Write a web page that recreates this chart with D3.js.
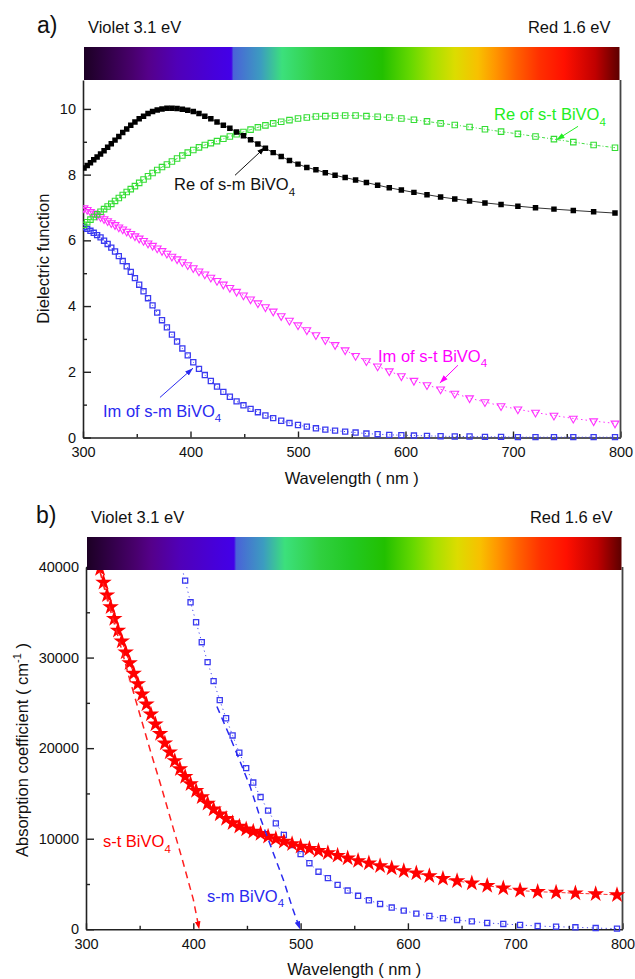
<!DOCTYPE html>
<html><head><meta charset="utf-8">
<script src="https://cdn.jsdelivr.net/npm/d3@7"></script>
<style>body{margin:0;background:#fff}svg{display:block;font-family:"Liberation Sans",Arial,sans-serif}</style>
</head><body><svg id="c" width="635" height="979"></svg>
<script>
// shared wavelength grid (nm)
const wavelengths = [300.97,303.92,306.93,310.00,313.13,316.33,319.59,322.92,326.32,329.79,333.33,336.96,340.66,344.44,348.31,352.27,356.32,360.47,364.71,369.05,373.49,378.05,382.72,387.50,392.41,397.44,402.60,407.89,413.33,418.92,424.66,430.56,436.62,442.86,449.28,455.88,462.69,469.70,476.92,484.38,492.06,500.00,508.20,516.67,525.42,534.48,543.86,553.57,563.64,574.07,584.91,596.15,607.84,620.00,632.65,645.83,659.57,673.91,688.89,704.55,720.93,738.10,756.10,775.00,794.87];
// panel a) dielectric function
const reSM = [8.20,8.28,8.36,8.45,8.54,8.63,8.73,8.83,8.94,9.05,9.16,9.28,9.39,9.50,9.60,9.70,9.78,9.86,9.92,9.97,10.00,10.02,10.02,10.01,9.99,9.96,9.92,9.86,9.78,9.70,9.60,9.50,9.41,9.30,9.18,9.06,8.93,8.80,8.67,8.55,8.43,8.32,8.22,8.15,8.06,7.98,7.91,7.84,7.76,7.68,7.60,7.53,7.46,7.39,7.32,7.26,7.20,7.14,7.09,7.04,6.99,6.95,6.91,6.87,6.83];
const reST = [6.47,6.55,6.63,6.71,6.79,6.87,6.95,7.03,7.11,7.20,7.29,7.38,7.47,7.56,7.65,7.75,7.85,7.95,8.05,8.14,8.23,8.31,8.40,8.49,8.58,8.67,8.75,8.83,8.90,8.96,9.02,9.09,9.16,9.23,9.30,9.37,9.44,9.50,9.56,9.61,9.66,9.71,9.74,9.77,9.78,9.79,9.80,9.80,9.78,9.76,9.74,9.71,9.67,9.62,9.56,9.51,9.45,9.38,9.31,9.24,9.16,9.08,8.99,8.90,8.82];
const imST = [6.98,6.93,6.87,6.82,6.76,6.71,6.65,6.59,6.53,6.47,6.40,6.34,6.27,6.20,6.13,6.06,5.99,5.91,5.84,5.76,5.68,5.60,5.51,5.43,5.34,5.25,5.16,5.06,4.97,4.87,4.77,4.66,4.56,4.44,4.33,4.21,4.09,3.97,3.84,3.70,3.56,3.42,3.27,3.12,2.97,2.82,2.66,2.49,2.33,2.17,2.02,1.87,1.73,1.60,1.47,1.34,1.20,1.08,0.96,0.86,0.76,0.67,0.58,0.50,0.43];
const imSM = [6.40,6.35,6.29,6.23,6.16,6.09,5.99,5.89,5.78,5.66,5.52,5.37,5.21,5.04,4.85,4.65,4.45,4.24,4.02,3.80,3.57,3.35,3.13,2.92,2.71,2.50,2.29,2.09,1.90,1.72,1.55,1.39,1.24,1.10,0.98,0.87,0.77,0.67,0.59,0.51,0.44,0.38,0.33,0.28,0.24,0.21,0.18,0.15,0.12,0.10,0.08,0.07,0.06,0.05,0.04,0.03,0.03,0.02,0.02,0.01,0.01,0.01,0.01,0.01,0.01];
// panel b) absorption coefficient (cm^-1)
const alphaST = [null,null,null,null,39800,38300,36900,35600,34300,33000,31800,30600,29400,28250,27100,25950,24850,23750,22650,21600,20550,19550,18600,17700,16850,16050,15300,14600,13900,13250,12700,12200,11750,11350,11050,10800,10550,10250,9990,9700,9430,9150,8900,8690,8420,8140,7860,7560,7290,7000,6740,6450,6190,5900,5600,5340,5080,4820,4540,4280,4150,4080,3980,3900,3800];
const alphaSM = [null,null,null,null,null,null,null,null,null,null,null,null,null,null,null,null,null,null,null,null,null,null,null,40800,38500,36100,33900,31700,29500,27400,25300,23300,21400,19500,17800,16200,14600,13100,11700,10420,9300,8300,7300,6360,5650,4900,4280,3700,3200,2800,2400,2060,1730,1470,1220,1030,870,700,590,480,360,290,220,140,70];
// band-gap extrapolation lines
const fitSTwl = [313,320,330,340,350,360,370,380,390,400,405.5];
const fitSTval = [39500,36300,32300,27900,23800,19700,15800,11700,7600,3300,0];
const fitSMwl = [422,434,443.5,453,462,474.6,484,493,499.5];
const fitSMval = [24600,21300,18550,15750,12450,8400,5450,2150,0];
// ticks
const xTicks = [300,400,500,600,700,800];
const xMinor = [350,450,550,650,750];
const yTicksA = [0,2,4,6,8,10];
const yMinorA = [1,3,5,7,9];
const yTicksB = [0,10000,20000,30000,40000];
const yMinorB = [5000,15000,25000,35000];
// spectrum colour bar stops
const specOffsets = [0,0.09,0.12,0.174,0.245,0.275,0.279,0.33,0.37,0.435,0.495,0.557,0.61,0.65,0.693,0.736,0.768,0.806,0.85,0.897,0.955,1];
const specColors = ["#1c0024","#48006c","#55008a","#5000b8","#4600dc","#4300e8","#4a62d8","#3c9cc0","#3ce07c","#30d040","#22c822","#22c000","#66d800","#a6e000","#dcdc00","#f8c000","#ff9600","#ff6200","#ff3000","#ff1000","#c00000","#5c0000"];

const svg = d3.select('#c');
const defs = svg.append('defs');
const grad = defs.append('linearGradient').attr('id','spec').attr('x1','0').attr('x2','1').attr('y1','0').attr('y2','0');
specOffsets.forEach((o,i)=>grad.append('stop').attr('offset',o).attr('stop-color',specColors[i]));
function arrowMarker(id,color){
  defs.append('marker').attr('id',id).attr('viewBox','0 0 10 10').attr('refX',10).attr('refY',5)
    .attr('markerWidth',8).attr('markerHeight',8).attr('markerUnits','userSpaceOnUse').attr('orient','auto')
    .append('path').attr('d','M0,1.5L10,5L0,8.5Z').attr('fill',color);
}
arrowMarker('aK','#000');arrowMarker('aG','#22ee22');arrowMarker('aM','#ff00ff');arrowMarker('aB','#2a2af0');arrowMarker('aR','#ff0000');

function subText(g,x,y,main,sub,color,size){
  const t=g.append('text').attr('x',x).attr('y',y).attr('fill',color).attr('font-size',size);
  t.append('tspan').text(main);
  t.append('tspan').attr('font-size',size*0.7).attr('dy',size*0.33).text(sub);
  return t;
}

function panel(o){
  const g = svg.append('g');
  const x = d3.scaleLinear().domain([300,800]).range([o.l,o.r]);
  const y = d3.scaleLinear().domain([0,o.yMax]).range([o.b,o.t]);
  const clipId='clip'+o.id;
  defs.append('clipPath').attr('id',clipId).append('rect').attr('x',o.l).attr('y',o.t-40).attr('width',o.r-o.l+8).attr('height',o.b-o.t+48);
  g.append('g').attr('transform',`translate(0,${o.b})`)
    .call(d3.axisBottom(x).tickValues(xTicks).tickSizeInner(-6).tickSizeOuter(0).tickPadding(9).tickFormat(d3.format('d')));
  g.append('g').attr('transform',`translate(0,${o.b})`)
    .call(d3.axisBottom(x).tickValues(xMinor).tickSizeInner(-3.5).tickSizeOuter(0).tickFormat(''))
    .select('.domain').remove();
  g.append('g').attr('transform',`translate(${o.l},0)`)
    .call(d3.axisLeft(y).tickValues(o.yTicks).tickSizeInner(-8).tickSizeOuter(0).tickPadding(7).tickFormat(d3.format('d')));
  g.append('g').attr('transform',`translate(${o.l},0)`)
    .call(d3.axisLeft(y).tickValues(o.yMinor).tickSizeInner(-4).tickSizeOuter(0).tickFormat(''))
    .select('.domain').remove();
  g.selectAll('.domain').attr('stroke','#222').attr('stroke-width',1.6);
  g.selectAll('.tick line').attr('stroke','#222').attr('stroke-width',1.4);
  g.selectAll('.tick text').attr('font-size',14.5).attr('fill','#111').attr('font-family','"Liberation Sans",Arial,sans-serif');
  g.append('line').attr('x1',x(800)).attr('x2',x(800)).attr('y1',o.t).attr('y2',o.b).attr('stroke','#444').attr('stroke-width',1.8);
  g.append('text').attr('x',(o.l+o.r)/2).attr('y',o.b+o.xtDy).attr('text-anchor','middle').attr('font-size',16.5).attr('fill','#111').text('Wavelength ( nm )');
  o.yTitle(g,o);
  return {g,x,y,clip:`url(#${clipId})`};
}
function series(P,vals,opt){
  const pts = wavelengths.map((w,i)=>[w,vals[i]]).filter(d=>d[1]!==null);
  const layer = P.g.append('g').attr('clip-path',P.clip);
  layer.append('path').datum(pts).attr('fill','none').attr('stroke',opt.line).attr('stroke-width',opt.lw||1)
    .attr('stroke-dasharray',opt.dash||null)
    .attr('d',d3.line().x(d=>P.x(d[0])).y(d=>P.y(d[1])));
  layer.selectAll(null).data(pts).enter().append('path')
    .attr('transform',d=>`translate(${P.x(d[0])},${P.y(d[1])})`+(opt.rot?`rotate(${opt.rot})`:''))
    .attr('d',d3.symbol().type(opt.sym).size(opt.size))
    .attr('fill',opt.fill).attr('stroke',opt.stroke).attr('stroke-width',opt.sw||1);
}
function fitLine(P,wl,vals,color,mk){
  P.g.append('path').datum(wl.map((w,i)=>[w,vals[i]])).attr('fill','none').attr('stroke',color).attr('stroke-width',1.5)
    .attr('stroke-dasharray','7,5').attr('marker-end',`url(#${mk})`)
    .attr('d',d3.line().x(d=>P.x(d[0])).y(d=>P.y(d[1])));
}
function arrow(P,x1,y1,x2,y2,color,mk){
  P.g.append('line').attr('x1',P.x(x1)).attr('y1',P.y(y1)).attr('x2',P.x(x2)).attr('y2',P.y(y2))
    .attr('stroke',color).attr('stroke-width',1).attr('marker-end',`url(#${mk})`);
}
function header(P,o,label,lx,ly){
  svg.append('rect').attr('x',P.x(300)+1).attr('y',o.t-33).attr('width',P.x(800)-P.x(300)-2).attr('height',33).attr('fill','url(#spec)');
  svg.append('text').attr('x',lx).attr('y',ly).attr('font-size',23).attr('fill','#111').text(label);
  svg.append('text').attr('x',P.x(300)+5).attr('y',o.t-47).attr('font-size',16.5).attr('fill','#111').text('Violet 3.1 eV');
  svg.append('text').attr('x',P.x(800)-10).attr('y',o.t-47).attr('text-anchor','end').attr('font-size',16.5).attr('fill','#111').text('Red 1.6 eV');
}

// ---------- panel a ----------
const oA = {id:'a',l:83,r:620.5,t:80,b:437.5,yMax:10.88,yTicks:yTicksA,yMinor:yMinorA,xtDy:46.5,
  yTitle:(g,o)=>g.append('text').attr('transform',`translate(49,${(o.t+o.b)/2})rotate(-90)`).attr('text-anchor','middle').attr('font-size',16.5).attr('fill','#111').text('Dielectric function')};
const A = panel(oA);
series(A,imSM,{line:'#3a3af0',dash:'1,2.5',sym:d3.symbolSquare,size:26,fill:'none',stroke:'#3a3af0',sw:1.3});
series(A,imST,{line:'#ff33ff',dash:'1.5,3',sym:d3.symbolTriangle,size:26,fill:'none',stroke:'#ff33ff',sw:1.1,rot:180});
series(A,reST,{line:'#44dd44',dash:'3,2,1,2',sym:d3.symbolSquare,size:30,fill:'none',stroke:'#33dd33',sw:1.1});
series(A,reSM,{line:'#333',sym:d3.symbolSquare,size:30,fill:'#000',stroke:'none'});
subText(A.g,A.x(384.7),A.y(7.52),'Re of s-m BiVO','4','#111',16.5);
arrow(A,441.4,7.98,469.3,8.83,'#111','aK');
subText(A.g,A.x(682.3),A.y(9.65),'Re of s-t BiVO','4','#22ee22',16.5);
arrow(A,760.5,9.47,740.5,9.06,'#22ee22','aG');
subText(A.g,A.x(574.4),A.y(2.30),'Im of s-t BiVO','4','#ff00ff',16.5);
arrow(A,648.8,2.2,632,1.66,'#ff00ff','aM');
subText(A.g,A.x(318.6),A.y(0.63),'Im of s-m BiVO','4','#2a2af0',16.5);
arrow(A,371.6,1.22,402.3,2.11,'#2a2af0','aB');
header(A,oA,'a)',37,33);

// ---------- panel b ----------
const oB = {id:'b',l:86,r:622.5,t:567,b:929.3,yMax:40000,yTicks:yTicksB,yMinor:yMinorB,xtDy:46,
  yTitle:(g,o)=>{const t=g.append('text').attr('transform',`translate(28,750)rotate(-90)`).attr('text-anchor','middle').attr('font-size',16.5).attr('fill','#111');
    t.append('tspan').text('Absorption coefficient ( cm');
    t.append('tspan').attr('font-size',11).attr('dy',-7).text('-1');
    t.append('tspan').attr('dy',7).text(' )');}};
const B = panel(oB);
series(B,alphaSM,{line:'#4a4af0',dash:'1.2,3.5',sym:d3.symbolSquare,size:26,fill:'none',stroke:'#3a3af0',sw:1.3});
series(B,alphaST,{line:'#ff3030',dash:'4,2',sym:d3.symbolStar,size:85,fill:'#ff0000',stroke:'none'});
fitLine(B,fitSTwl,fitSTval,'#ff2020','aR');
fitLine(B,fitSMwl,fitSMval,'#2a2af0','aB');
subText(B.g,B.x(315.8),B.y(9060),'s-t BiVO','4','#ff0000',16.5);
subText(B.g,B.x(412.8),B.y(3050),'s-m BiVO','4','#2a2af0',16.5);
header(B,{t:570},'b)',36,523);
</script></body></html>
